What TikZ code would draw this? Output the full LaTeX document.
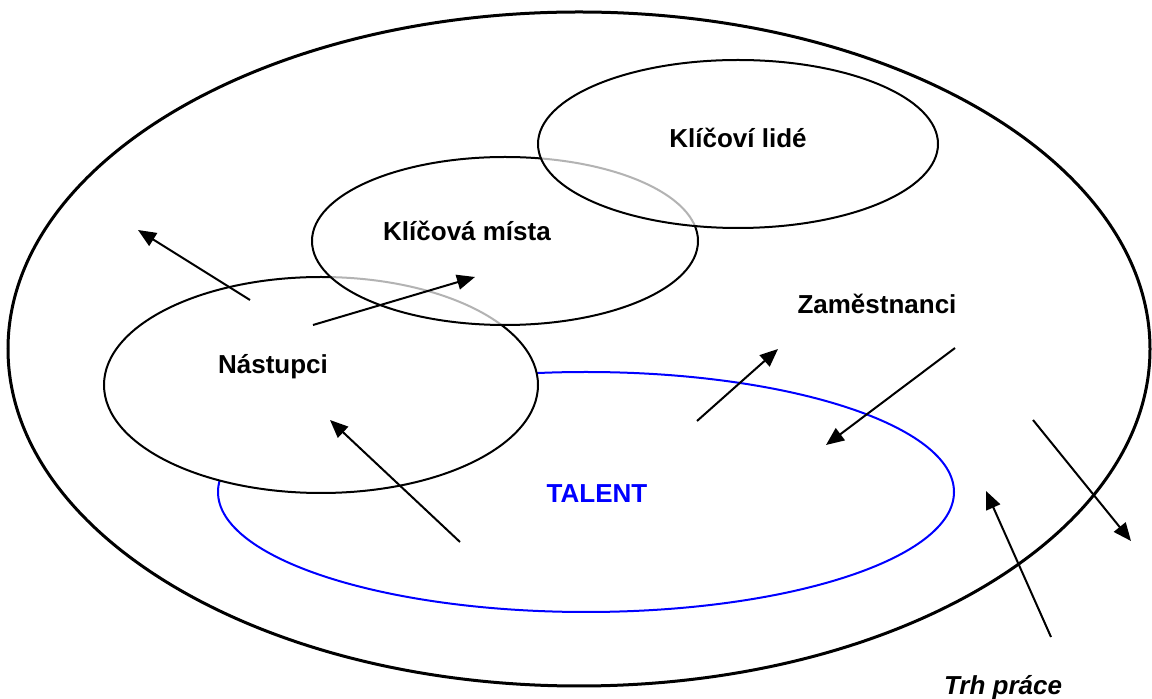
\documentclass[tikz,border=0pt]{standalone}
\usepackage{fontspec}
\setmainfont{Liberation Sans}
\usetikzlibrary{shapes.geometric,arrows.meta}
\begin{document}
\begin{tikzpicture}[x=0.5pt,y=-0.5pt,
  oval/.style={ellipse,draw=black,line width=1pt,inner sep=0pt},
  lbl/.style={font=\fontsize{13}{15}\selectfont\bfseries,inner sep=0pt},
  arr/.style={line width=1pt,-{Triangle[length=9pt,width=7.5pt]}}]
\useasboundingbox (0,0) rectangle (1152,699);
\fill[white] (0,0) rectangle (1152,699);
% outer
\node[oval,line width=1.5pt,minimum width=571pt,minimum height=337pt] (outer) at (579,349) {};
% talent
\node[oval,draw=blue,minimum width=368pt,minimum height=120pt] (talent) at (586,492) {};
% nastupci
\node[oval,fill=white,minimum width=217pt,minimum height=108pt] (nast) at (321,385) {};
% klicova mista
\node[oval,fill=white,fill opacity=0.7,minimum width=193pt,minimum height=84pt] (mista) at (505,241) {};
% klicovi lide
\node[oval,fill=white,fill opacity=0.7,minimum width=200pt,minimum height=84pt] (lide) at (738,144) {};
% labels
\node[lbl] (tlide) at (738,138) {Klíčoví lidé};
\node[lbl] (tmista) at (467,231) {Klíčová místa};
\node[lbl] (tzam) at (877,304) {Zaměstnanci};
\node[lbl] (tnast) at (273,367) {Nástupci};
\node[lbl,text=blue] (ttal) at (597,494) {TALENT};
\node[lbl,font=\fontsize{13}{15}\selectfont\bfseries\itshape] (ttrh) at (1003,688) {Trh práce};
% arrow endpoints
\coordinate (a1s) at (250,300); \coordinate (a1e) at (138,230);
\coordinate (a2s) at (313,325); \coordinate (a2e) at (475,277);
\coordinate (a3s) at (460,542); \coordinate (a3e) at (330,420);
\coordinate (a4s) at (697,421); \coordinate (a4e) at (778,349);
\coordinate (a5s) at (955,348); \coordinate (a5e) at (826,445);
\coordinate (a6s) at (1033,420); \coordinate (a6e) at (1131,541);
\coordinate (a7s) at (1051,637); \coordinate (a7e) at (986,491);
\draw[arr] (a1s) -- (a1e);
\draw[arr] (a2s) -- (a2e);
\draw[arr] (a3s) -- (a3e);
\draw[arr] (a4s) -- (a4e);
\draw[arr] (a5s) -- (a5e);
\draw[arr] (a6s) -- (a6e);
\draw[arr] (a7s) -- (a7e);
\end{tikzpicture}
\end{document}
